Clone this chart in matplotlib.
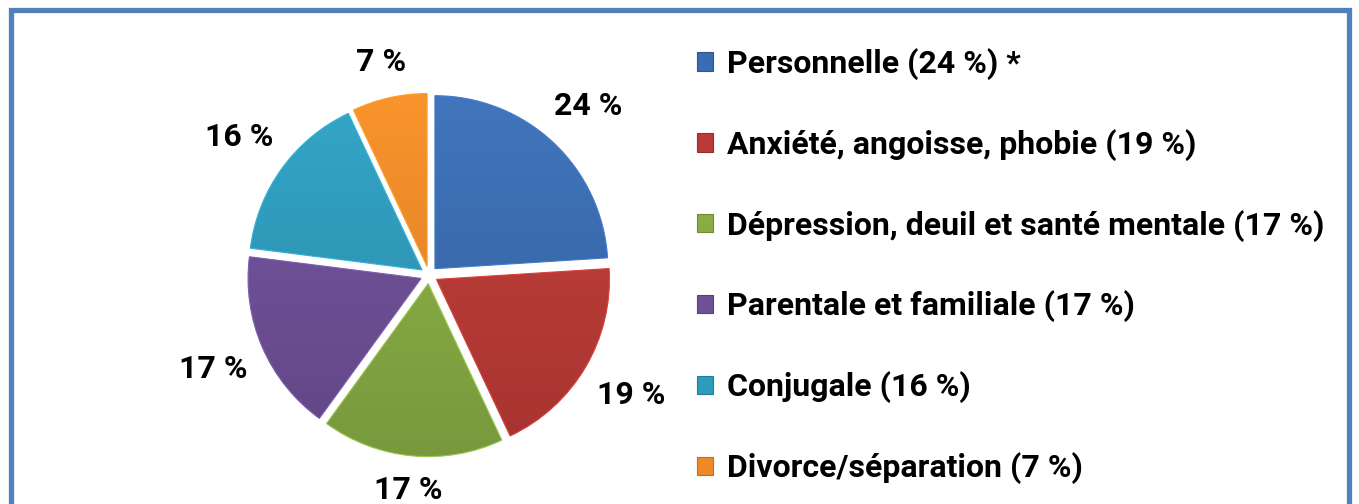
import numpy as np
import matplotlib
matplotlib.use("Agg")
import matplotlib.pyplot as plt
from matplotlib.patches import Rectangle
from matplotlib.colors import to_rgb

# data
categories = ["Personnelle (24 %) *", "Anxiété, angoisse, phobie (19 %)",
              "Dépression, deuil et santé mentale (17 %)", "Parentale et familiale (17 %)",
              "Conjugale (16 %)", "Divorce/séparation (7 %)"]
values = [24, 19, 17, 17, 16, 7]
pct_labels = ["24 %", "19 %", "17 %", "17 %", "16 %", "7 %"]
colors = ["#3A6CB1", "#BC3A36", "#88AD44", "#6E5097", "#2E9BBC", "#EE8A26"]

W, H = 1359, 504
fig = plt.figure(figsize=(W / 100, H / 100), dpi=100)
fonts = ["Roboto", "Open Sans", "DejaVu Sans"]

# pie axes: centre and radius in pixels
cx, cy, R = 429, 275, 173
half = 1.4 * R
ax = fig.add_axes([(cx - half) / W, (H - cy - half) / H, 2 * half / W, 2 * half / H])

explode = 0.05
wedges, texts = ax.pie(values, colors=colors, startangle=90, counterclock=False,
                       explode=[explode] * len(values), labels=pct_labels,
                       labeldistance=1.3,
                       textprops=dict(fontsize=23, fontweight="bold", family=fonts),
                       wedgeprops=dict(linewidth=0.8))
ax.set_xlim(-1.4, 1.4)
ax.set_ylim(-1.4, 1.4)
ax.set_aspect("equal")

# shaded fill: vertical gradient clipped to each wedge
grad = np.linspace(0, 1, 256).reshape(-1, 1)
for w, c in zip(wedges, colors):
    base = np.array(to_rgb(c))
    light = np.clip(base * 1.06 + 0.02, 0, 1)
    dark = base * 0.86
    img = (light[None, None, :] * (1 - grad[..., None]) + dark[None, None, :] * grad[..., None])
    img = np.repeat(img, 2, axis=1)
    im = ax.imshow(img, extent=[-1.3, 1.3, -1.3, 1.3], origin="upper", zorder=w.get_zorder() + 0.1,
                   interpolation="bilinear")
    im.set_clip_path(w)
    w.set_edgecolor(tuple(np.clip(base * 1.15, 0, 1)))
    w.set_zorder(w.get_zorder() + 0.2)
    w.set_facecolor("none")

# put value labels just outside each slice
fig.canvas.draw()
rend = fig.canvas.get_renderer()
gap = 0.095
for t, w in zip(texts, wedges):
    t.set_ha("center")
    t.set_va("center")
    ang = np.deg2rad((w.theta1 + w.theta2) / 2)
    bb = t.get_window_extent(rend).transformed(ax.transData.inverted())
    d = 1 + explode + gap + bb.width / 2 * abs(np.cos(ang)) + bb.height / 2 * abs(np.sin(ang))
    t.set_position((d * np.cos(ang), d * np.sin(ang)))

# legend
handles = [Rectangle((0, 0), 1, 1, facecolor=c, edgecolor=tuple(np.array(to_rgb(c)) * 0.8), linewidth=0.8)
           for c in colors]
fig.legend(handles, categories, loc="upper left", bbox_to_anchor=(697 / W, 1 - 48 / H),
           frameon=False, prop=dict(size=23, weight="bold", family=fonts),
           handlelength=0.5, handleheight=0.5, handletextpad=0.45, labelspacing=1.53,
           borderaxespad=0, borderpad=0)

# outer frame (bottom edge lies outside the picture)
fig.patches.append(Rectangle((10.5 / W, -0.05), (W - 21) / W, 1.05 - 9.5 / H,
                             transform=fig.transFigure, fill=False,
                             edgecolor="#4F81BD", linewidth=3.8))

fig.savefig("out.png", dpi=100)
